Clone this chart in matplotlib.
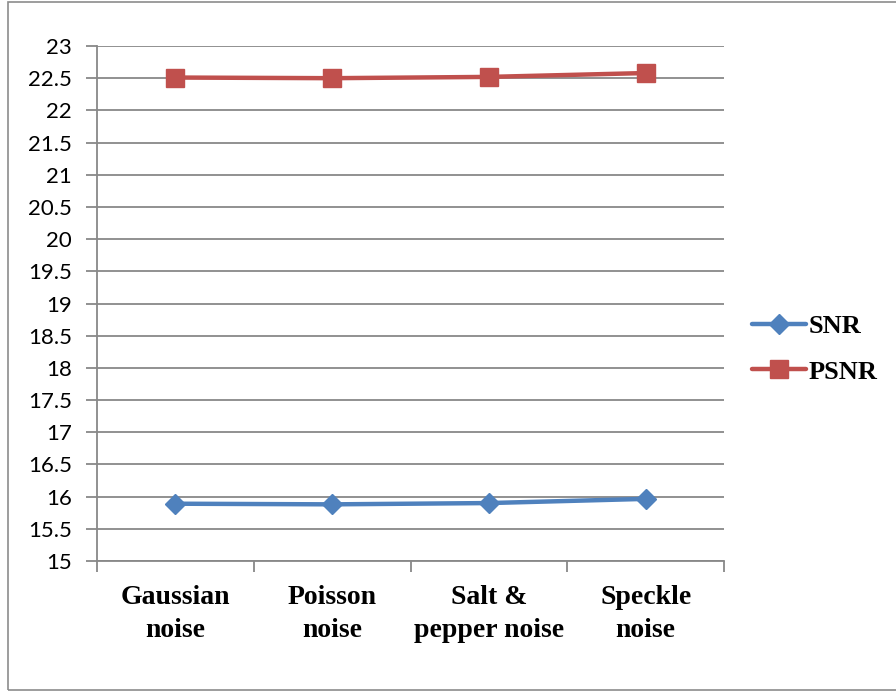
import matplotlib
matplotlib.use("Agg")
import matplotlib.pyplot as plt
from matplotlib.patches import Rectangle

categories = ["Gaussian\nnoise", "Poisson\nnoise", "Salt &\npepper noise", "Speckle\nnoise"]
snr = [15.89, 15.88, 15.90, 15.965]
psnr = [22.51, 22.50, 22.52, 22.58]
y_ticks = [15, 15.5, 16, 16.5, 17, 17.5, 18, 18.5, 19, 19.5, 20, 20.5, 21, 21.5, 22, 22.5, 23]

W, H = 896, 692
fig = plt.figure(figsize=(W / 100, H / 100), dpi=100)

# outer chart frame
fig.patches.append(Rectangle((8 / W, 2 / H), 1.2, (688 / H), transform=fig.transFigure,
                             fill=False, edgecolor="#8c8c8c", linewidth=1.2))

ax = fig.add_axes([97 / W, (H - 561) / H, (724 - 97) / W, (561 - 46) / H])
grid_c = "#888888"

x = [i + 0.5 for i in range(len(categories))]
ax.plot(x, snr, color="#4F81BD", linewidth=3.2, marker="D", markersize=10.5,
        label="SNR", solid_capstyle="round")
ax.plot(x, psnr, color="#C0504D", linewidth=3.2, marker="s", markersize=13,
        label="PSNR", solid_capstyle="round")

ax.set_xlim(0, len(categories))
ax.set_ylim(15, 23)
ax.set_yticks(y_ticks)
ax.set_yticklabels([f"{v:g}" for v in y_ticks], fontfamily="Lato", fontsize=16)
ax.yaxis.grid(True, color=grid_c, linewidth=1.3)
ax.set_axisbelow(True)

ax.set_xticks(range(len(categories) + 1))
ax.set_xticklabels([])
ax.set_xticks(x, minor=True)
ax.set_xticklabels(categories, minor=True, fontfamily="Liberation Serif",
                   fontweight="bold", fontsize=20, linespacing=1.42)
ax.tick_params(axis="x", which="minor", length=0, pad=17)
ax.tick_params(axis="x", which="major", length=8, color=grid_c, width=1.3, direction="out")
ax.tick_params(axis="y", length=8, color=grid_c, width=1.3, pad=10)

for s in ["top", "right"]:
    ax.spines[s].set_visible(False)
for s in ["left", "bottom"]:
    ax.spines[s].set_color(grid_c)
    ax.spines[s].set_linewidth(1.3)

leg = fig.legend(loc="center left", bbox_to_anchor=(728 / W, 1 - 349 / H), frameon=False,
                 prop={"family": "Liberation Serif", "weight": "bold", "size": 19},
                 handlelength=2.05, handletextpad=0.1, labelspacing=0.85)

fig.savefig("out.png", dpi=100)
